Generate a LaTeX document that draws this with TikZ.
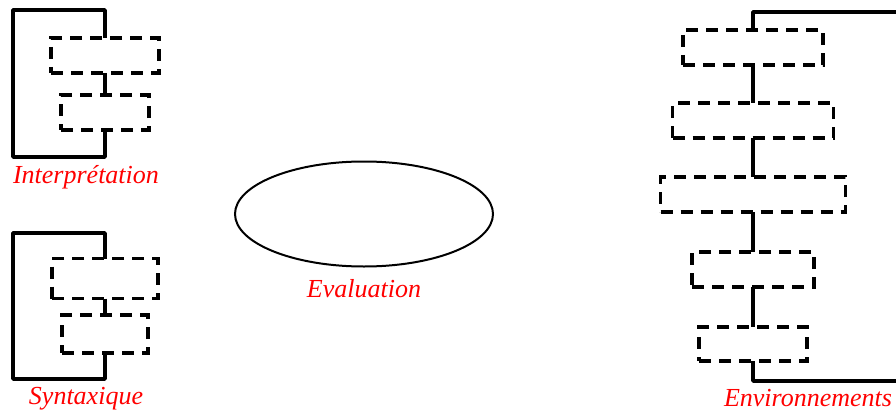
\documentclass[tikz,border=0pt]{standalone}
\usepackage{fontspec}
\setmainfont{Liberation Serif}
\usetikzlibrary{shapes.geometric}

\begin{document}
\begin{tikzpicture}[x=1pt,y=-1pt,
  stage/.style={draw, line width=3.5pt, dash pattern=on 12pt off 8pt, inner sep=0pt, outer sep=0pt},
  link/.style={line width=3.5pt, line join=round},
  caption/.style={text=red, font=\fontsize{26}{30}\selectfont\itshape, anchor=base, inner sep=0pt}]
  \useasboundingbox (0,0) rectangle (896,412);

  % Interpretation
  \node[stage, minimum width=108pt, minimum height=35pt] (i1) at (105,55.5) {};
  \node[stage, minimum width=88pt, minimum height=35pt] (i2) at (105,112.5) {};
  \coordinate (iTL) at (13,10);
  \coordinate (iBL) at (13,157);
  \draw[link] (i1.north) |- (iTL) -- (iBL) -| (i2.south);
  \draw[link] (i1.south) -- (i2.north);
  \node[caption] (lInt) at (86,183) {Interprétation};

  % Syntaxique
  \node[stage, minimum width=106pt, minimum height=40pt] (s1) at (105,278.5) {};
  \node[stage, minimum width=86pt, minimum height=38pt] (s2) at (105,334) {};
  \coordinate (sTL) at (13,233);
  \coordinate (sBL) at (13,379);
  \draw[link] (s1.north) |- (sTL) -- (sBL) -| (s2.south);
  \draw[link] (s1.south) -- (s2.north);
  \node[caption] (lSyn) at (86,404) {Syntaxique};

  % Evaluation
  \node[draw, ellipse, line width=2pt, minimum width=258pt, minimum height=105pt] (eval) at (364,214) {};
  \node[caption] (lEval) at (364,297) {Evaluation};

  % Environnements
  \node[stage, minimum width=140pt, minimum height=35pt] (e1) at (753,47.5) {};
  \node[stage, minimum width=161pt, minimum height=35pt] (e2) at (753,120.5) {};
  \node[stage, minimum width=185pt, minimum height=35pt] (e3) at (753,194.5) {};
  \node[stage, minimum width=122pt, minimum height=35pt] (e4) at (753,269.5) {};
  \node[stage, minimum width=108pt, minimum height=34pt] (e5) at (753,344) {};
  \coordinate (eTR) at (896,12);
  \coordinate (eBR) at (896,381);
  \draw[link] (e1.north) |- (eTR);
  \draw[link] (e5.south) |- (eBR);
  \foreach \a/\b in {e1/e2, e2/e3, e3/e4, e4/e5}
    \draw[link] (\a.south) -- (\b.north);
  \node[caption] (lEnv) at (808,406) {Environnements};
\end{tikzpicture}
\end{document}
